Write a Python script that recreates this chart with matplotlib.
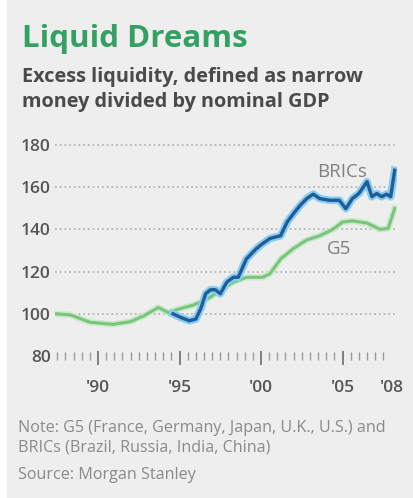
import matplotlib
matplotlib.use("Agg")
import matplotlib.pyplot as plt
import matplotlib.patheffects as pe
from matplotlib.patches import Rectangle

# excess liquidity index, base = 100
g5_years = [1987.4, 1988.3, 1989.5, 1990.9, 1992.0, 1992.8, 1993.7, 1994.3, 1995.0,
            1995.8, 1996.7, 1997.5, 1998.3, 1999.1, 2000.1, 2000.55, 2001.2, 2002.0,
            2002.8, 2003.6, 2004.4, 2005.0, 2005.6, 2006.5, 2007.3, 2007.8, 2008.2]
g5_values = [100, 99.5, 96, 95, 96.3, 99, 103, 100.6, 102.4,
             104, 107, 111, 115, 117.3, 117.3, 119, 126, 131,
             135, 137, 140, 143.5, 144, 143, 140, 140.5, 150]

bric_years = [1994.6, 1995.1, 1995.6, 1996.0, 1996.3, 1996.6, 1996.9, 1997.2, 1997.5,
              1997.9, 1998.3, 1998.6, 1999.1, 1999.7, 2000.1, 2000.55, 2001.2, 2001.6,
              2002.0, 2002.4, 2002.8, 2003.2, 2003.6, 2004.2, 2004.8, 2005.2, 2005.6,
              2006.0, 2006.5, 2006.8, 2007.1, 2007.4, 2007.7, 2007.95, 2008.2]
bric_values = [100, 98.2, 96.7, 97.5, 102.4, 109.5, 111.4, 111.4, 109.5,
               115, 117.3, 117.3, 126, 130.8, 133.3, 135.7, 137, 143.5,
               147.6, 151.4, 154.6, 156.7, 154.6, 153.8, 153.8, 149.8, 154.6,
               157, 162.6, 155.5, 157, 155.5, 156.7, 155.5, 168]

tick_years = [1990, 1995, 2000, 2005, 2008]
tick_labels = ["'90", "'95", "'00", "'05", "'08"]
long_ticks = [1990, 1995, 2000, 2005]
y_ticks = [80, 100, 120, 140, 160, 180]

plt.rcParams['font.family'] = ['Open Sans', 'DejaVu Sans']

W, H = 413, 498
fig = plt.figure(figsize=(W / 100, H / 100), dpi=100, facecolor="white")
fig.patches.append(Rectangle((7 / W, 0), 1, 1, transform=fig.transFigure,
                             facecolor="#eeeeee", edgecolor="none", zorder=-10))

ax = fig.add_axes([55 / W, 1 - 356 / H, (397 - 55) / W, (356 - 145) / H])
ax.set_facecolor("none")
ax.set_xlim(1987.36, 2008.34)
ax.set_ylim(80, 180)
for s in ax.spines.values():
    s.set_visible(False)

# dotted gridlines
for v in y_ticks[1:]:
    ax.axhline(v, color="#b5b5b5", lw=1.3, ls=(0, (1, 1.6)), zorder=1, clip_on=False)

ax.set_yticks(y_ticks)
ax.set_yticklabels([str(v) for v in y_ticks])
ax.tick_params(axis="y", length=0, pad=3, labelsize=12.5, labelcolor="#555555")
for lbl in ax.get_yticklabels():
    lbl.set_fontweight(600)

ax.set_xticks(tick_years)
ax.set_xticklabels(tick_labels, fontweight=600)
ax.set_xticks([y + 0.5 * i for y in range(1987, 2009) for i in range(2)
               if 1987.4 < y + 0.5 * i < 2008.4], minor=True)
ax.tick_params(axis="x", which="major", length=0, pad=17, labelsize=12.5,
               labelcolor="#555555")
ax.tick_params(axis="x", which="minor", direction="inout", length=6, width=1,
               color="#9a9a9a")
ax.vlines(long_ticks, 75.5, 82.5, color="#777777", lw=1.3, clip_on=False, zorder=5)

ax.plot(g5_years, g5_values, color="#7cc47d", lw=2.2, zorder=3,
        path_effects=[pe.Stroke(linewidth=4.5, foreground="#c8ebca"), pe.Normal()])
ax.plot(bric_years, bric_values, color="#1f5c98", lw=2.4, zorder=4,
        path_effects=[pe.Stroke(linewidth=5.5, foreground="#86cdf0"), pe.Normal()])

ax.text(2005.0, 167, "BRICs", fontsize=13.5, color="#808080", ha="center", va="center")
ax.text(2004.8, 130.5, "G5", fontsize=13.5, color="#808080", ha="center", va="center")

fig.text(22 / W, 1 - 47 / H, "Liquid Dreams", fontsize=22.5, fontweight="bold",
         color="#34a062", ha="left", va="baseline")
fig.text(22 / W, 1 - 82 / H, "Excess liquidity, defined as narrow", fontsize=14.3,
         fontweight="bold", color="#4a4a4a", ha="left", va="baseline")
fig.text(22 / W, 1 - 107 / H, "money divided by nominal GDP", fontsize=14.3,
         fontweight="bold", color="#4a4a4a", ha="left", va="baseline")

fig.text(18 / W, 1 - 432 / H, "Note: G5 (France, Germany, Japan, U.K., U.S.) and",
         fontsize=11.6, color="#8a8a8a", ha="left", va="baseline")
fig.text(18 / W, 1 - 451 / H, "BRICs (Brazil, Russia, India, China)",
         fontsize=11.6, color="#8a8a8a", ha="left", va="baseline")
fig.text(18 / W, 1 - 479 / H, "Source: Morgan Stanley",
         fontsize=11.6, color="#8a8a8a", ha="left", va="baseline")

fig.savefig("out.png", dpi=100, facecolor=fig.get_facecolor())
